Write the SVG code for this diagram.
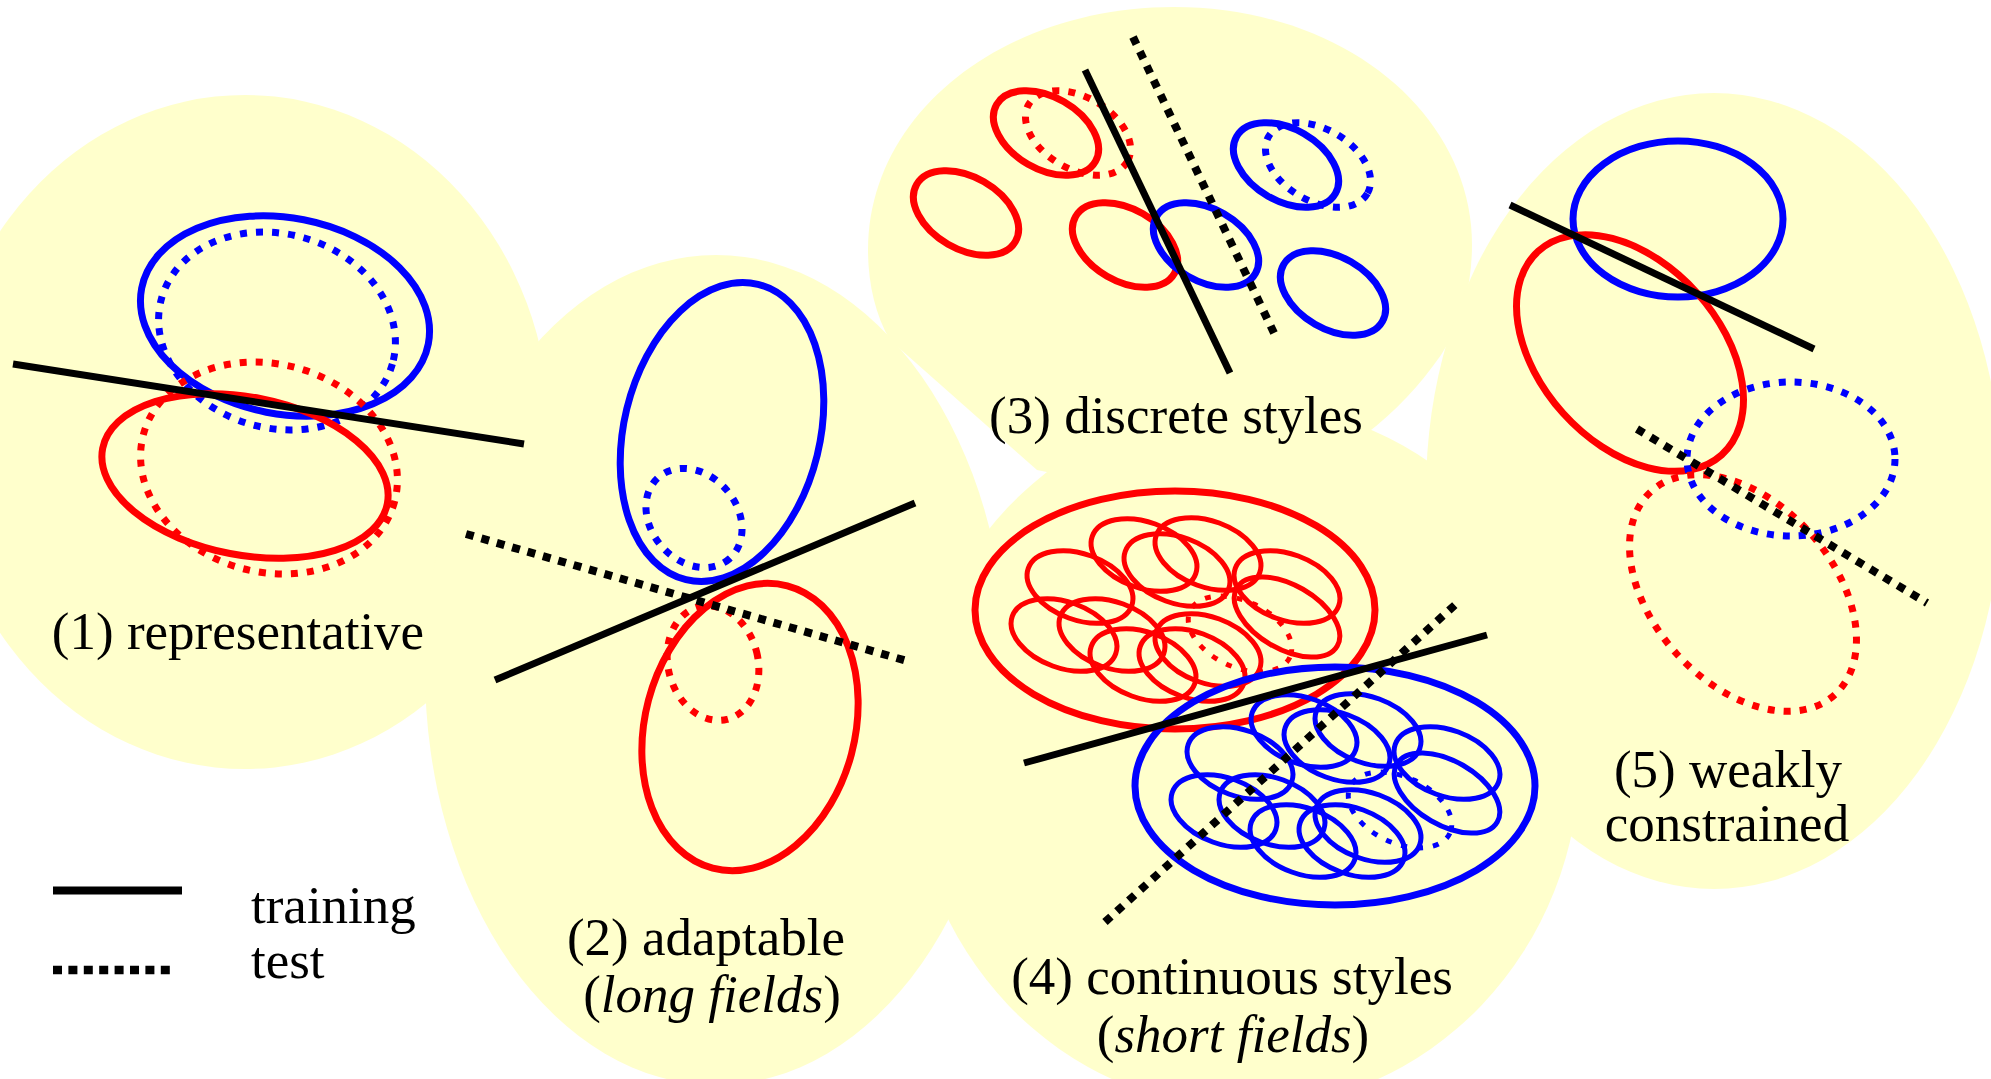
<svg xmlns="http://www.w3.org/2000/svg" xmlns:xlink="http://www.w3.org/1999/xlink" width="1991" height="1079" viewBox="0 0 1991 1079">
<style>
.blob{fill:#FFFFCC;stroke:none}
.e{fill:none;stroke-width:7}
.r{stroke:#FF0000}
.b{stroke:#0000FF}
.d{stroke-dasharray:7 9}
.ln{stroke:#000;stroke-width:7;fill:none}
.dl{stroke:#000;stroke-width:8;stroke-dasharray:8 8;fill:none}
.t{font-family:"Liberation Serif","Times New Roman",serif;font-size:53px;fill:#000}
.s{fill:none;stroke:currentColor;stroke-width:5}
</style>
<defs>
<g id="cluster">
<ellipse cx="1175" cy="610" rx="200" ry="119" fill="none" stroke="currentColor" stroke-width="7"/>
<ellipse class="s" cx="1240" cy="634" rx="55" ry="33" transform="rotate(25 1240 634)" stroke-dasharray="6 10" stroke-width="6"/>
<ellipse class="s" cx="1080" cy="587" rx="55" ry="33" transform="rotate(20 1080 587)"/>
<ellipse class="s" cx="1144" cy="555" rx="55" ry="33" transform="rotate(20 1144 555)"/>
<ellipse class="s" cx="1177" cy="570" rx="55" ry="33" transform="rotate(20 1177 570)"/>
<ellipse class="s" cx="1208" cy="554" rx="55" ry="33" transform="rotate(20 1208 554)"/>
<ellipse class="s" cx="1287" cy="587" rx="55" ry="33" transform="rotate(20 1287 587)"/>
<ellipse class="s" cx="1064" cy="635" rx="55" ry="33" transform="rotate(20 1064 635)"/>
<ellipse class="s" cx="1112" cy="635" rx="55" ry="33" transform="rotate(20 1112 635)"/>
<ellipse class="s" cx="1143" cy="665" rx="55" ry="33" transform="rotate(20 1143 665)"/>
<ellipse class="s" cx="1192" cy="665" rx="55" ry="33" transform="rotate(20 1192 665)"/>
<ellipse class="s" cx="1208" cy="650" rx="55" ry="33" transform="rotate(20 1208 650)"/>
<ellipse class="s" cx="1287" cy="617" rx="58" ry="32" transform="rotate(30 1287 617)" stroke-width="9"/>
</g>
</defs>

<g id="background">
<ellipse class="blob" cx="245" cy="432" rx="305" ry="337"/>
<ellipse class="blob" cx="716" cy="670" rx="291" ry="415"/>
<path class="blob" d="M1174,7 C1345,7 1472,115 1472,245 C1472,285 1462,322 1441,355 C1420,385 1395,412 1366,434 C1290,490 1130,490 1037,470 L890,340 C875,315 868,282 868,250 C868,112 1005,7 1174,7 Z"/>
<ellipse class="blob" cx="1245" cy="756" rx="335" ry="352"/>
<ellipse class="blob" cx="1714" cy="491" rx="288" ry="398"/>
</g>

<g id="panel1">
<ellipse class="e b" cx="285" cy="316" rx="146" ry="98" transform="rotate(11 285 316)"/>
<ellipse class="e b d" cx="277" cy="331" rx="120" ry="97" transform="rotate(16 277 331)"/>
<ellipse class="e r" cx="245" cy="476" rx="145" ry="79" transform="rotate(11 245 476)"/>
<ellipse class="e r d" cx="269" cy="468" rx="130" ry="104" transform="rotate(15 269 468)"/>
<line class="ln" x1="13" y1="364" x2="524" y2="444"/>
<text class="t" x="238" y="649" text-anchor="middle">(1) representative</text>
</g>

<g id="panel2">
<ellipse class="e b" cx="722" cy="432" rx="98" ry="152" transform="rotate(13.7 722 432)"/>
<ellipse class="e b d" cx="694" cy="518" rx="54" ry="43" transform="rotate(49 694 518)"/>
<ellipse class="e r" cx="750" cy="727" rx="105" ry="146" transform="rotate(14.8 750 727)"/>
<ellipse class="e r d" cx="713" cy="663" rx="45" ry="58" transform="rotate(-14 713 663)"/>
<line class="dl" x1="466" y1="534" x2="907" y2="661"/>
<line class="ln" x1="495" y1="680" x2="915" y2="503"/>
<text class="t" x="706" y="955" text-anchor="middle">(2) adaptable</text>
<text class="t" x="712" y="1012" text-anchor="middle">(<tspan font-style="italic">long fields</tspan>)</text>
</g>

<g id="panel3">
<ellipse class="e r" cx="1046" cy="133" rx="57" ry="36" transform="rotate(30 1046 133)"/>
<ellipse class="e r d" cx="1078" cy="133" rx="57" ry="36" transform="rotate(30 1078 133)"/>
<ellipse class="e r" cx="966" cy="213" rx="57" ry="36" transform="rotate(30 966 213)"/>
<ellipse class="e r" cx="1125" cy="245" rx="57" ry="36" transform="rotate(30 1125 245)"/>
<ellipse class="e b" cx="1206" cy="245" rx="57" ry="36" transform="rotate(30 1206 245)"/>
<ellipse class="e b" cx="1286" cy="165" rx="57" ry="36" transform="rotate(30 1286 165)"/>
<ellipse class="e b d" cx="1318" cy="165" rx="57" ry="36" transform="rotate(30 1318 165)"/>
<ellipse class="e b" cx="1333" cy="293" rx="57" ry="36" transform="rotate(30 1333 293)"/>
<line class="ln" x1="1085" y1="70" x2="1230" y2="373"/>
<line class="dl" x1="1133" y1="37" x2="1274" y2="333"/>
<text class="t" x="1176" y="433" text-anchor="middle">(3) discrete styles</text>
</g>

<g id="panel4">
<use xlink:href="#cluster" href="#cluster" color="#FF0000"/>
<use xlink:href="#cluster" href="#cluster" color="#0000FF" transform="translate(160 176)"/>
<line class="ln" x1="1024" y1="763" x2="1487" y2="635"/>
<line class="dl" x1="1105" y1="922" x2="1456" y2="604"/>
<text class="t" x="1232" y="994" text-anchor="middle">(4) continuous styles</text>
<text class="t" x="1233" y="1052" text-anchor="middle">(<tspan font-style="italic">short fields</tspan>)</text>
</g>

<g id="panel5">
<ellipse class="e b" cx="1678" cy="219" rx="105" ry="78"/>
<ellipse class="e r" cx="1630" cy="353" rx="137" ry="90" transform="rotate(48 1630 353)"/>
<ellipse class="e b d" cx="1791" cy="459" rx="104" ry="77"/>
<ellipse class="e r d" cx="1743" cy="593" rx="137" ry="90" transform="rotate(48 1743 593)"/>
<line class="ln" x1="1510" y1="205" x2="1814" y2="349"/>
<line class="dl" x1="1637" y1="429" x2="1927" y2="603"/>
<text class="t" x="1728" y="787" text-anchor="middle">(5) weakly</text>
<text class="t" x="1727" y="841" text-anchor="middle">constrained</text>
</g>

<g id="legend">
<line x1="53" y1="890.5" x2="182" y2="890.5" stroke="#000" stroke-width="8"/>
<line x1="53" y1="970" x2="175" y2="970" stroke="#000" stroke-width="8.5" stroke-dasharray="9 6.4"/>
<text class="t" x="251" y="923">training</text>
<text class="t" x="251" y="978">test</text>
</g>
</svg>
